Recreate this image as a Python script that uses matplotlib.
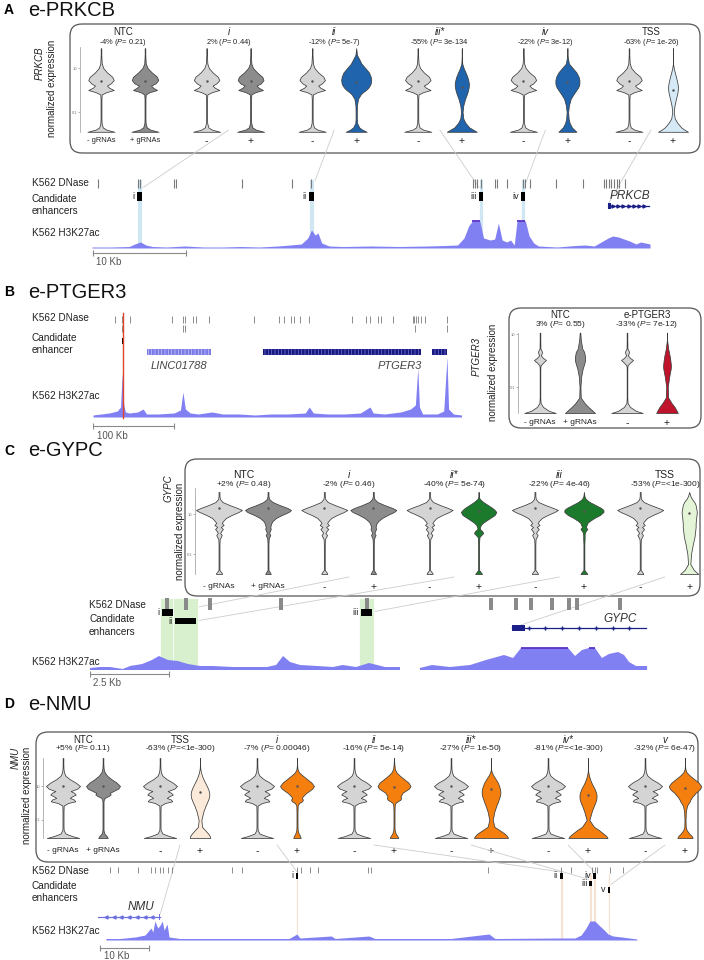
import numpy as np
import matplotlib.pyplot as plt
from matplotlib.patches import FancyBboxPatch, Rectangle, ConnectionPatch

plt.rcParams['font.family'] = ['Liberation Sans', 'DejaVu Sans']
plt.rcParams['mathtext.fontset'] = 'custom'
plt.rcParams['mathtext.rm'] = 'Liberation Sans'
plt.rcParams['mathtext.it'] = 'Liberation Sans:italic'
plt.rcParams['hatch.linewidth'] = 0.5

nan = np.nan

# ---------------- A: e-PRKCB ----------------
prkcb_groups = ['NTC', 'i', 'ii', 'iii*', 'iv', 'TSS']
prkcb_stats = ['-4% (P= 0.21)', '2% (P= 0.44)', '-12% (P= 5e-7)', '-55% (P= 3e-134',
               '-22% (P= 3e-12)', '-63% (P= 1e-26)']
prkcb_levels = [1.9, 1.6, 1.2, 1.0, 0.8, 0.6, 0.45, 0.3, 0.2, 0.1, 0.0, -0.1, -0.2, -0.4, -0.7,
                -1.0, -1.3, -1.5, -1.7, -1.8, -1.9]
prkcb_ctrl = [0.02, 0.02, 0.05, 0.15, 0.4, 0.75, 0.85, 0.65, 0.4, 0.55, 0.85, 0.35, 0.05, 0.03,
              0.03, 0.03, 0.03, 0.04, 0.12, 0.35, 0.9]
prkcb_ntc_plus = [0.02, 0.02, 0.05, 0.17, 0.45, 0.8, 0.88, 0.7, 0.4, 0.55, 0.8, 0.3, 0.05, 0.03,
                  0.03, 0.03, 0.03, 0.04, 0.12, 0.35, 0.9]
prkcb_i_plus = [0.02, 0.02, 0.05, 0.16, 0.43, 0.78, 0.86, 0.68, 0.4, 0.55, 0.82, 0.32, 0.05, 0.03,
                0.03, 0.03, 0.03, 0.04, 0.12, 0.35, 0.9]
prkcb_ii_plus = [0.0, 0.05, 0.35, 0.6, 0.85, 0.97, 1.0, 0.97, 0.9, 0.8, 0.65, 0.45, 0.3, 0.12,
                 0.05, 0.04, 0.04, 0.06, 0.2, 0.4, 0.7]
prkcb_iii_plus = [0.0, 0.0, 0.03, 0.12, 0.25, 0.37, 0.43, 0.47, 0.47, 0.45, 0.42, 0.38, 0.33, 0.22,
                  0.1, 0.05, 0.1, 0.25, 0.5, 0.75, 1.0]
prkcb_iv_plus = [0.0, 0.0, 0.1, 0.35, 0.6, 0.75, 0.8, 0.8, 0.77, 0.7, 0.6, 0.5, 0.4, 0.22, 0.1,
                 0.05, 0.08, 0.15, 0.3, 0.45, 0.6]
prkcb_tss_plus = [0.0, 0.0, 0.0, 0.05, 0.12, 0.2, 0.25, 0.3, 0.32, 0.33, 0.32, 0.3, 0.27, 0.2,
                  0.1, 0.05, 0.12, 0.3, 0.55, 0.75, 1.0]
prkcb_ctrl_mean = 0.41
prkcb_plus_mean = [0.41, 0.41, 0.36, 0.14, 0.36, 0.0]

prkcb_dnase_kb = [0.65, 4.95, 5.15, 8.8, 9.0, 16.1, 21.5, 23.5, 41.0, 41.2, 41.4, 41.8, 43.3,
                  43.5, 44.6, 46.3, 46.6, 47.1, 49.9, 52.8, 55.1, 55.3, 55.6, 55.8, 56.1, 56.5,
                  56.7, 57.3]
prkcb_enh_names = ['i', 'ii', 'iii', 'iv']
prkcb_enh_start = [4.8, 23.3, 41.6, 46.1]
prkcb_enh_end = [5.4, 23.9, 42.0, 46.6]
prkcb_gene_kb = [55.5, 59.9]
prkcb_sig_kb = [0, 2, 4, 4.6, 5.2, 5.8, 6.5, 8, 10, 12, 14, 16, 18, 20, 21.3, 22.5, 23.2, 23.6,
                24.0, 24.3, 24.7, 25.5, 27, 30, 33, 36, 38, 39.3, 40.0, 40.5, 40.9, 41.7, 42.1,
                42.8, 43.3, 43.7, 44.1, 44.6, 45.0, 45.4, 45.7, 46.6, 47.0, 47.5, 48.0, 50, 52,
                53, 54, 55.5, 56, 56.6, 57.2, 57.8, 58.5, 59, 60]
prkcb_sig_h = [1, 1, 1.5, 4, 6, 3, 1.5, 1, 2, 1, 1, 1.5, 1, 2, 3, 4, 10, 18, 13, 15, 5, 2, 1.5,
               2, 1.5, 2, 2.5, 3, 10, 22, 27, 27, 10, 8, 9, 25, 8, 6, 8, 3, 27, 27, 12, 5, 2, 1,
               2.5, 3, 2, 10, 12, 11, 9, 7, 4, 6, 4]

# ---------------- B: e-PTGER3 ----------------
ptger3_groups = ['NTC', 'e-PTGER3']
ptger3_stats = ['3% (P= 0.55)', '-33% (P= 7e-12)']
ptger3_levels = [1.05, 0.8, 0.45, 0.38, 0.32, 0.25, 0.2, 0.1, 0.02, -0.08, -0.18, -0.3, -0.6,
                 -1.0, -1.4, -1.6, -1.75, -1.9, -1.98]
ptger3_ctrl = [0.02, 0.02, 0.03, 0.1, 0.13, 0.1, 0.05, 0.2, 0.4, 0.2, 0.04, 0.02, 0.02, 0.02,
               0.02, 0.04, 0.2, 0.6, 1.05]
ptger3_ntc_plus = [0.02, 0.05, 0.15, 0.22, 0.28, 0.3, 0.32, 0.34, 0.34, 0.3, 0.25, 0.18, 0.08,
                   0.03, 0.05, 0.3, 0.55, 0.85, 1.0]
ptger3_enh_plus = [0.0, 0.0, 0.08, 0.1, 0.13, 0.15, 0.17, 0.2, 0.22, 0.24, 0.26, 0.25, 0.15,
                   0.05, 0.08, 0.3, 0.5, 0.65, 0.72]

ptger3_dnase1_kb = [27, 36, 46, 98, 111, 114, 123, 127, 143, 199, 230, 236, 244, 248, 256, 267,
                    320, 337, 342, 352, 356, 370, 395, 396, 399, 401, 405, 410, 437]
ptger3_dnase2_kb = [36, 111, 114, 397, 437]
ptger3_enh_kb = [35.8, 38.2]
linc01788_kb = [67, 146]
ptger3_gene_kb = [210, 405]
ptger3_gene2_kb = [418, 437]
ptger3_sig_kb = [0, 10, 20, 30, 34, 36, 38, 40, 45, 55, 62, 66, 80, 100, 108, 111, 114, 120, 130,
                 147, 160, 180, 200, 220, 240, 262, 267, 272, 290, 310, 330, 342, 346, 360, 380,
                 392, 398, 401, 403, 407, 415, 425, 433, 437, 439, 445, 455]
ptger3_sig_h = [2, 3, 4, 6, 10, 44, 12, 5, 4, 5, 8, 3, 3, 4, 7, 25, 8, 4, 3, 5, 3, 3, 2, 3, 3, 4,
                10, 4, 3, 3, 4, 10, 4, 3, 5, 8, 12, 49, 10, 3, 3, 3, 6, 60, 8, 3, 2]

# ---------------- C: e-GYPC ----------------
gypc_groups = ['NTC', 'i', 'ii*', 'iii', 'TSS']
gypc_stats = ['+2% (P= 0.48)', '-2% (P= 0.46)', '-40% (P= 5e-74)', '-22% (P= 4e-46)',
              '-53% (P=<1e-300)']
gypc_levels = [2.1, 1.9, 1.75, 1.6, 1.45, 1.3, 1.2, 1.1, 0.95, 0.8, 0.65, 0.55, 0.45, 0.35, 0.25,
               0.15, 0.05, -0.05, -0.15, -0.25, -0.5, -1.0, -1.5, -1.8, -1.95, -2.0]
gypc_ctrl = [0.02, 0.02, 0.04, 0.15, 0.45, 0.8, 1.0, 0.85, 0.55, 0.3, 0.18, 0.12, 0.2, 0.08,
             0.17, 0.1, 0.05, 0.12, 0.08, 0.03, 0.02, 0.02, 0.02, 0.02, 0.12, 0.13]
gypc_ntc_plus = [0.02, 0.02, 0.05, 0.2, 0.5, 0.85, 1.0, 0.9, 0.6, 0.35, 0.2, 0.15, 0.12, 0.1,
                 0.12, 0.08, 0.05, 0.1, 0.06, 0.03, 0.02, 0.02, 0.02, 0.02, 0.1, 0.12]
gypc_i_plus = [0.02, 0.02, 0.05, 0.18, 0.48, 0.83, 1.0, 0.9, 0.62, 0.38, 0.22, 0.15, 0.12, 0.1,
               0.12, 0.08, 0.05, 0.1, 0.06, 0.03, 0.02, 0.02, 0.02, 0.02, 0.1, 0.12]
gypc_ii_plus = [0.0, 0.0, 0.05, 0.2, 0.4, 0.6, 0.7, 0.77, 0.7, 0.5, 0.3, 0.18, 0.1, 0.06, 0.05,
                0.15, 0.2, 0.12, 0.04, 0.03, 0.02, 0.02, 0.02, 0.02, 0.12, 0.15]
gypc_iii_plus = [0.0, 0.02, 0.08, 0.25, 0.5, 0.75, 0.85, 0.85, 0.7, 0.45, 0.25, 0.15, 0.12, 0.08,
                 0.15, 0.08, 0.04, 0.03, 0.03, 0.03, 0.02, 0.02, 0.02, 0.02, 0.12, 0.15]
gypc_tss_plus = [0.0, 0.05, 0.12, 0.22, 0.28, 0.3, 0.32, 0.33, 0.32, 0.3, 0.29, 0.28, 0.28, 0.28,
                 0.27, 0.26, 0.25, 0.24, 0.23, 0.21, 0.16, 0.08, 0.05, 0.2, 0.35, 0.4]
gypc_ctrl_mean = 1.3
gypc_plus_mean = [1.3, 1.3, 1.15, 1.15, 1.05]

gypc_dnase_kb = [2.44, 3.04, 3.80, 6.04, 8.77, 12.69, 13.48, 13.96, 14.62, 15.16, 15.41, 16.77]
gypc_enh_names = ['i', 'ii', 'iii']
gypc_enh_start = [2.28, 2.69, 8.58]
gypc_enh_end = [2.63, 3.35, 8.92]
gypc_gene_kb = [13.35, 17.6]
gypc_sig_kb = [0, 0.32, 0.63, 1.04, 1.27, 1.65, 1.96, 2.18, 2.47, 2.78, 3.1, 3.48, 3.89, 4.53,
               5.6, 5.89, 6.11, 6.33, 6.65, 7.18, 7.69, 8.0, 8.42, 8.83, 9.34, 9.81, 10.1, 10.44,
               10.82, 11.39, 12.03, 12.53, 13.1, 13.39, 13.64, 14.02, 15.13, 15.35, 15.57, 15.79,
               15.98, 16.2, 16.42, 16.71, 16.9, 17.06, 17.28, 17.63]
gypc_sig_h = [2, 3, 3, 1, 4, 6, 10, 14, 10, 9, 6, 4, 4, 3, 3, 5, 14, 8, 5, 4, 3, 5, 3, 7, 3, 3,
              nan, 2, 5, 3, 5, 10, 15, 12, 22, 22, 22, 14, 20, 22, 22, 12, 16, 18, 15, 8, 4, 4]

# ---------------- D: e-NMU ----------------
nmu_groups = ['NTC', 'TSS', 'i', 'ii', 'iii*', 'iv*', 'v']
nmu_stats = ['+5% (P= 0.11)', '-63% (P=<1e-300)', '-7% (P= 0.00046)', '-16% (P= 5e-14)',
             '-27% (P= 1e-50)', '-81% (P=<1e-300)', '-32% (P= 6e-47)']
nmu_levels = [2.65, 2.3, 2.0, 1.8, 1.6, 1.4, 1.2, 1.0, 0.85, 0.7, 0.6, 0.5, 0.4, 0.3, 0.2, 0.1,
              0.0, -0.15, -0.5, -1.0, -1.4, -1.6, -1.8, -1.95, -2.06]
nmu_ctrl = [0.02, 0.02, 0.03, 0.06, 0.15, 0.4, 0.75, 1.0, 0.85, 0.45, 0.65, 0.75, 0.55, 0.4,
            0.65, 0.72, 0.3, 0.04, 0.03, 0.03, 0.03, 0.04, 0.15, 0.55, 0.95]
nmu_ntc_plus = [0.02, 0.02, 0.04, 0.1, 0.25, 0.5, 0.8, 1.0, 0.9, 0.6, 0.4, 0.45, 0.3, 0.1, 0.05,
                0.03, 0.03, 0.03, 0.03, 0.03, 0.03, 0.03, 0.08, 0.22, 0.28]
nmu_tss_plus = [0.0, 0.0, 0.02, 0.06, 0.12, 0.2, 0.3, 0.4, 0.47, 0.52, 0.54, 0.55, 0.54, 0.52,
                0.48, 0.44, 0.4, 0.33, 0.2, 0.08, 0.12, 0.3, 0.48, 0.58, 0.6]
nmu_i_plus = [0.0, 0.0, 0.03, 0.12, 0.35, 0.6, 0.85, 1.0, 0.9, 0.7, 0.55, 0.45, 0.35, 0.28, 0.35,
              0.3, 0.12, 0.04, 0.03, 0.03, 0.03, 0.04, 0.1, 0.18, 0.22]
nmu_ii_plus = [0.0, 0.02, 0.05, 0.15, 0.35, 0.6, 0.85, 0.97, 0.88, 0.65, 0.5, 0.45, 0.38, 0.42,
               0.38, 0.22, 0.08, 0.04, 0.03, 0.03, 0.03, 0.04, 0.1, 0.2, 0.25]
nmu_iii_plus = [0.0, 0.0, 0.0, 0.05, 0.15, 0.28, 0.4, 0.48, 0.52, 0.55, 0.55, 0.54, 0.52, 0.48,
                0.45, 0.42, 0.38, 0.32, 0.2, 0.1, 0.2, 0.5, 0.8, 0.95, 1.0]
nmu_iv_plus = [0.0, 0.0, 0.0, 0.02, 0.06, 0.12, 0.2, 0.3, 0.38, 0.44, 0.47, 0.5, 0.5, 0.5, 0.48,
               0.45, 0.42, 0.35, 0.22, 0.08, 0.35, 0.65, 0.9, 1.08, 1.15]
nmu_v_plus = [0.0, 0.0, 0.02, 0.1, 0.3, 0.55, 0.8, 0.95, 0.9, 0.75, 0.62, 0.55, 0.45, 0.38, 0.32,
              0.28, 0.22, 0.12, 0.05, 0.03, 0.04, 0.1, 0.25, 0.4, 0.45]
nmu_ctrl_mean = 1.0
nmu_plus_mean = [1.0, 0.65, 1.0, 0.95, 0.82, 0.47, 0.9]

nmu_dnase_kb = [2.45, 4.08, 8.16, 10.8, 11.6, 12.7, 13.3, 14.3, 15.1, 27.3, 29.4, 40.6, 41.4,
                43.3, 44.9, 55.1, 55.7, 79.6, 94.5, 96.5, 100.8, 101.4, 101.8, 104.5, 107.1]
nmu_enh_names = ['i', 'ii', 'iii', 'iv', 'v']
nmu_enh_start = [40.4, 94.3, 100.3, 101.1, 104.0]
nmu_enh_end = [40.9, 94.8, 100.9, 101.6, 104.5]
nmu_gene_kb = [0, 12.7]
nmu_sig_kb = [1.6, 4.5, 7.6, 9.6, 10.8, 11.2, 11.6, 12.2, 12.7, 13.1, 13.5, 14.1, 14.5, 16.7, 27,
              39, 40.6, 41.2, 47.6, 48.4, 55.3, 56.5, 72, 79.8, 81, 94.5, 97.3, 98.6, 99.6, 100.4,
              101.4, 102.2, 103.3, 104.1, 105.1, 106.9, 110]
nmu_sig_h = [1.5, 1.5, 3, 5, 12, 8, 19, 12, 15, 19, 10, 16, 3, 1.5, 1.5, 1.5, 6, 2, 4, 1.5, 4,
             1.5, 1.5, 6, 1.5, 2, 2, 5, 12, 19, 19, 15, 10, 6, 4, 3, 1]

# ---------------- drawing ----------------
W, H = 704, 960
fig = plt.figure(figsize=(7.04, 9.6), dpi=100)
canvas = fig.add_axes([0, 0, 1, 1], zorder=0)
canvas.set_xlim(0, W)
canvas.set_ylim(H, 0)
canvas.axis('off')

GRAY_LT = '#d4d4d4'
GRAY_DK = '#8c8c8c'
EDGE = '#3c3c3c'
SIG = '#8080f2'
SAT = '#5b30c4'
TXT = '#222222'
ROMAN = {'i', 'ii', 'iii', 'iv', 'v'}


def px_axes(x0, y0, x1, y1):
    ax = fig.add_axes([x0 / W, 1 - y1 / H, (x1 - x0) / W, (y1 - y0) / H], zorder=2)
    ax.patch.set_alpha(0)
    for s in ax.spines.values():
        s.set_visible(False)
    ax.set_xticks([])
    ax.set_yticks([])
    return ax


def stat_label(s):
    return s.replace('(P', r'($\mathit{P}$')


def rbox(x0, y0, x1, y1, r=12):
    canvas.add_patch(FancyBboxPatch((x0 + r, y0 + r), x1 - x0 - 2 * r, y1 - y0 - 2 * r,
                                    boxstyle=f'round,pad={r}', fc='none', ec='#555555', lw=0.9))


def violin(ax, x, levels, widths, half, color, mean=None):
    w = np.asarray(widths, float) * half
    lv = np.asarray(levels, float)
    ax.fill_betweenx(lv, x - w, x + w, facecolor=color, edgecolor=EDGE, linewidth=0.55,
                     zorder=3, clip_on=False)
    if mean is not None:
        ax.plot([x], [mean], marker='o', ms=0.8, color='#555555', zorder=4)


def violin_panel(box, axis_x, ytop, ybot, lo, hi, first, step, within, levels, ctrl, plus, fills,
                 half, groups, stats, cat_y, stat_y, bot_y, fs_cat, fs_stat, gene, ylab,
                 ctrl_mean=None, plus_mean=None):
    rbox(*box)
    ax = px_axes(axis_x, ytop, box[2], ybot)
    ax.set_xlim(axis_x, box[2])
    ax.set_ylim(lo, hi)
    ax.spines['left'].set_visible(True)
    ax.spines['left'].set_bounds(lo, hi)
    ax.spines['left'].set_color('#999999')
    ax.spines['left'].set_linewidth(0.5)
    ax.set_yticks([-1, 1])
    ax.set_yticklabels(['0.1', '10'])
    ax.tick_params(axis='y', labelsize=3, length=1.5, width=0.4, pad=0.5, colors='#777777')
    mids = []
    for k, g in enumerate(groups):
        xm = first + k * step
        xp = xm + within
        violin(ax, xm, levels, ctrl, half, GRAY_LT, ctrl_mean)
        violin(ax, xp, levels, plus[k], half, fills[k],
               None if plus_mean is None else plus_mean[k])
        mid = (xm + xp) / 2
        mids.append(mid)
        italic = g.rstrip('*') in ROMAN
        canvas.text(mid, cat_y, g, ha='center', va='center', fontsize=fs_cat,
                    style='italic' if italic else 'normal', color=TXT)
        canvas.text(mid, stat_y, stat_label(stats[k]), ha='center', va='center',
                    fontsize=fs_stat, color=TXT)
        if k == 0:
            canvas.text(xm, bot_y, '- gRNAs', ha='center', va='center', fontsize=fs_stat,
                        color=TXT)
            canvas.text(xp, bot_y, '+ gRNAs', ha='center', va='center', fontsize=fs_stat,
                        color=TXT)
        else:
            canvas.text(xm, bot_y, '-', ha='center', va='center', fontsize=7.5, color=TXT)
            canvas.text(xp, bot_y, '+', ha='center', va='center', fontsize=7.5, color=TXT)
    (gx, gy), (nx, ny) = ylab
    canvas.text(gx, gy, gene, rotation=90, ha='center', va='center', fontsize=7,
                style='italic', color=TXT)
    canvas.text(nx, ny, 'normalized expression', rotation=90, ha='center', va='center',
                fontsize=7, color=TXT)
    return ax, mids


def title(y, letter, name):
    canvas.text(4, y, letter, fontsize=10, fontweight='bold', va='center', ha='left')
    canvas.text(28, y, name, fontsize=14.5, va='center', ha='left', color='#111111')


def track_axes(x0, y0, x1, y1, kb0, px_per_kb):
    ax = px_axes(x0, y0, x1, y1)
    ax.set_xlim(kb0, kb0 + (x1 - x0) / px_per_kb)
    ax.set_ylim(y1, y0)
    return ax


def signal(ax, kb, h, base, sat=None):
    kb = np.asarray(kb, float)
    h = np.asarray(h, float)
    ax.fill_between(kb, base, base - h, color=SIG, lw=0, zorder=2)
    if sat is not None:
        top = np.where(h >= sat, base - h, np.nan)
        ax.plot(kb, top, color=SAT, lw=1.3, zorder=3, solid_capstyle='butt')


def enhancers(ax, starts, ends, names, rows, color='black'):
    for s, e, n, (y0, y1) in zip(starts, ends, names, rows):
        ax.add_patch(Rectangle((s, y0), e - s, y1 - y0, fc=color, ec='none', zorder=3))
        ax.annotate(n, (s, (y0 + y1) / 2), xytext=(-1.5, 0), textcoords='offset points',
                    ha='right', va='center', fontsize=6.5, color=TXT)


def bands(ax, starts, ends, y0, y1, color, pad=0.0):
    for s, e in zip(starts, ends):
        ax.add_patch(Rectangle((s - pad, y0), e - s + 2 * pad, y1 - y0, fc=color, ec='white',
                               lw=0.6, zorder=0))


def gene_model(ax, s, e, y, color, chev, thick):
    ax.plot([s, e], [y, y], color=color, lw=0.9, zorder=3)
    xs = np.linspace(s, e, 9)[1:-1]
    ax.plot(xs, [y] * len(xs), ls='none', marker=chev, ms=2.2, color=color, zorder=3)
    t0, t1 = thick
    ax.add_patch(Rectangle((t0, y - 3), t1 - t0, 6, fc=color, ec='none', zorder=3))


def scale_bar(ax, x0, length, y, label, lx, ly):
    ax.plot([x0, x0 + length], [y, y], color='#8a8a8a', lw=0.8, marker='|', ms=4, mew=0.8)
    canvas.text(lx, ly, label, fontsize=7, color='#555555', va='center', ha='left')


def link(xy_canvas, xy_track, tax):
    cp = ConnectionPatch(xyA=xy_canvas, coordsA=canvas.transData, xyB=xy_track,
                         coordsB=tax.transData, color='#cccccc', lw=0.6, zorder=1)
    fig.add_artist(cp)


def track_labels(x, items):
    for y, s in items:
        canvas.text(x, y, s, fontsize=7.2, color=TXT, va='center', ha='left')


# ===== A =====
title(10, 'A', 'e-PRKCB')
a_plus = [prkcb_ntc_plus, prkcb_i_plus, prkcb_ii_plus, prkcb_iii_plus, prkcb_iv_plus,
          prkcb_tss_plus]
a_fill = [GRAY_DK, GRAY_DK, '#1f64ad', '#1f64ad', '#1f64ad', '#d6e9f6']
vA, midsA = violin_panel((70, 24, 700, 153), 80, 47, 132, -1.909, 1.955, 101, 105.6, 44,
                         prkcb_levels, prkcb_ctrl, a_plus, a_fill, 15, prkcb_groups, prkcb_stats,
                         32, 42, 141, 7, 5.4, 'PRKCB', ((40, 63), (52, 88)),
                         prkcb_ctrl_mean, prkcb_plus_mean)
tA = track_axes(92, 170, 660, 270, 0, 9.3)
bands(tA, prkcb_enh_start, prkcb_enh_end, 179, 248, '#cfe6f3')
tA.vlines(prkcb_dnase_kb, 179, 188, color='#7a7a7a', lw=0.8)
enhancers(tA, prkcb_enh_start, prkcb_enh_end, prkcb_enh_names, [(192, 201)] * 4)
gene_model(tA, prkcb_gene_kb[0], prkcb_gene_kb[1], 206, '#1b2088', '>',
           (prkcb_gene_kb[0], prkcb_gene_kb[0] + 0.35))
tA.text(prkcb_gene_kb[0] + 0.2, 196, 'PRKCB', fontsize=8.5, style='italic', color='#333333',
        va='center', ha='left')
signal(tA, prkcb_sig_kb, prkcb_sig_h, 248, sat=27)
scale_bar(tA, 0.1, 10, 253, '10 Kb', 96, 262)
track_labels(32, [(183, 'K562 DNase'), (199, 'Candidate'), (211, 'enhancers'),
                  (233, 'K562 H3K27ac')])
for k in range(4):
    link((midsA[k + 1], 130), ((prkcb_enh_start[k] + prkcb_enh_end[k]) / 2, 190), tA)
link((midsA[5], 130), (prkcb_gene_kb[0], 204), tA)

# ===== B =====
title(292, 'B', 'e-PTGER3')
vB, _ = violin_panel((509, 308, 701, 428), 518, 333, 413, -1.98, 1.04, 540, 87, 40,
                     ptger3_levels, ptger3_ctrl, [ptger3_ntc_plus, ptger3_enh_plus],
                     [GRAY_DK, '#c0142c'], 15, ptger3_groups, ptger3_stats, 315, 324, 423, 7,
                     6, 'PTGER3', ((477, 357), (493, 372)))
tB = track_axes(93, 305, 470, 445, 0, 0.81)
tB.vlines(ptger3_dnase1_kb, 316, 323, color='#7a7a7a', lw=0.6)
tB.vlines(ptger3_dnase2_kb, 325, 332, color='#7a7a7a', lw=0.6)
tB.add_patch(Rectangle((ptger3_enh_kb[0], 338), ptger3_enh_kb[1] - ptger3_enh_kb[0], 6,
                       fc='black', ec='none', zorder=3))
for (s, e), fc, hc in [(linc01788_kb, '#7d7dea', '#c4c4f6'), (ptger3_gene_kb, '#1a1a85', '#6e6ec8'),
                       (ptger3_gene2_kb, '#1a1a85', '#6e6ec8')]:
    tB.add_patch(Rectangle((s, 349), e - s, 6, fc=fc, ec=hc, lw=0, hatch='|||||', zorder=3))
tB.text(np.mean(linc01788_kb), 366, 'LINC01788', fontsize=8, style='italic', color='#444444',
        ha='center', va='center')
tB.text(ptger3_gene_kb[1] + 1, 366, 'PTGER3', fontsize=8, style='italic', color='#444444',
        ha='right', va='center')
signal(tB, ptger3_sig_kb, ptger3_sig_h, 417)
tB.plot([np.mean(ptger3_enh_kb)] * 2, [313, 418], color='#e0452b', lw=1.0, zorder=4)
scale_bar(tB, 0, 100, 426, '100 Kb', 97, 436)
track_labels(32, [(318, 'K562 DNase'), (338, 'Candidate'), (350, 'enhancer'),
                  (396, 'K562 H3K27ac')])

# ===== C =====
title(451, 'C', 'e-GYPC')
c_plus = [gypc_ntc_plus, gypc_i_plus, gypc_ii_plus, gypc_iii_plus, gypc_tss_plus]
c_fill = [GRAY_DK, GRAY_DK, '#1c7a2c', '#1c7a2c', '#e3f4d7']
vC, midsC = violin_panel((185, 459, 700, 596), 195, 488, 574, -2.0, 2.3, 219, 105.3, 49,
                         gypc_levels, gypc_ctrl, c_plus, c_fill, 23, gypc_groups, gypc_stats,
                         475, 485, 587, 7.5, 6, 'GYPC', ((169, 488), (180, 531)),
                         gypc_ctrl_mean, gypc_plus_mean)
tC = track_axes(90, 595, 660, 690, 0, 31.6)
bands(tC, gypc_enh_start, gypc_enh_end, 598, 670, '#d9f0cf', pad=0.06)
for x in gypc_dnase_kb:
    tC.add_patch(Rectangle((x - 0.07, 598), 0.14, 12, fc='#8a8a8a', ec='none', zorder=2))
enhancers(tC, gypc_enh_start, gypc_enh_end, gypc_enh_names, [(609, 616), (618, 624), (609, 616)])
gene_model(tC, gypc_gene_kb[0], gypc_gene_kb[1], 628, '#1b2088', '+',
           (gypc_gene_kb[0], gypc_gene_kb[0] + 0.4))
tC.text(gypc_gene_kb[1] - 0.3, 619, 'GYPC', fontsize=8.5, style='italic', color='#333333',
        ha='right', va='center')
signal(tC, gypc_sig_kb, gypc_sig_h, 670, sat=22)
scale_bar(tC, 0, 2.5, 674, '2.5 Kb', 93, 683)
track_labels(89, [(605, 'K562 DNase'), (619, 'Candidate'), (632, 'enhancers')])
track_labels(32, [(662, 'K562 H3K27ac')])
for k, yy in zip(range(3), [612, 621, 612]):
    link((midsC[k + 1], 577), (gypc_enh_end[k], yy), tC)
link((midsC[4], 577), (gypc_gene_kb[0], 628), tC)

# ===== D =====
title(704, 'D', 'e-NMU')
d_plus = [nmu_ntc_plus, nmu_tss_plus, nmu_i_plus, nmu_ii_plus, nmu_iii_plus, nmu_iv_plus,
          nmu_v_plus]
d_fill = [GRAY_DK, '#fbe9d9', '#f57f0e', '#f57f0e', '#f57f0e', '#f57f0e', '#f57f0e']
vD, midsD = violin_panel((36, 732, 698, 862), 43, 758, 838, -2.06, 2.65, 63, 97, 40,
                         nmu_levels, nmu_ctrl, d_plus, d_fill, 17, nmu_groups, nmu_stats,
                         740, 749, 851, 7, 6, 'NMU', ((16, 758), (27, 795)),
                         nmu_ctrl_mean, nmu_plus_mean)
tD = track_axes(98, 862, 660, 960, 0, 4.9)
bands(tD, nmu_enh_start, nmu_enh_end, 873, 940, '#f8e2d2')
tD.vlines(nmu_dnase_kb, 867, 873, color='#7a7a7a', lw=0.6)
enhancers(tD, nmu_enh_start, nmu_enh_end, nmu_enh_names,
          [(873, 879), (873, 879), (881, 886), (873, 879), (887, 893)])
gene_model(tD, nmu_gene_kb[0], nmu_gene_kb[1], 917, '#6f6fe0', '<',
           (nmu_gene_kb[1] - 0.3, nmu_gene_kb[1]))
tD.text(np.mean(nmu_gene_kb) + 2.5, 907, 'NMU', fontsize=8.5, style='italic', color='#333333',
        ha='center', va='center')
signal(tD, nmu_sig_kb, nmu_sig_h, 940)
scale_bar(tD, 0.4, 10, 948, '10 Kb', 104, 956)
track_labels(32, [(871, 'K562 DNase'), (886, 'Candidate'), (898, 'enhancers'),
                  (931, 'K562 H3K27ac')])
link((midsD[1], 845), (nmu_gene_kb[1], 914), tD)
d_targets = [872, 872, 880, 872, 886]
for k in range(5):
    link((midsD[k + 2], 845), ((nmu_enh_start[k] + nmu_enh_end[k]) / 2, d_targets[k]), tD)

fig.savefig('out.png', dpi=100, facecolor='white')
